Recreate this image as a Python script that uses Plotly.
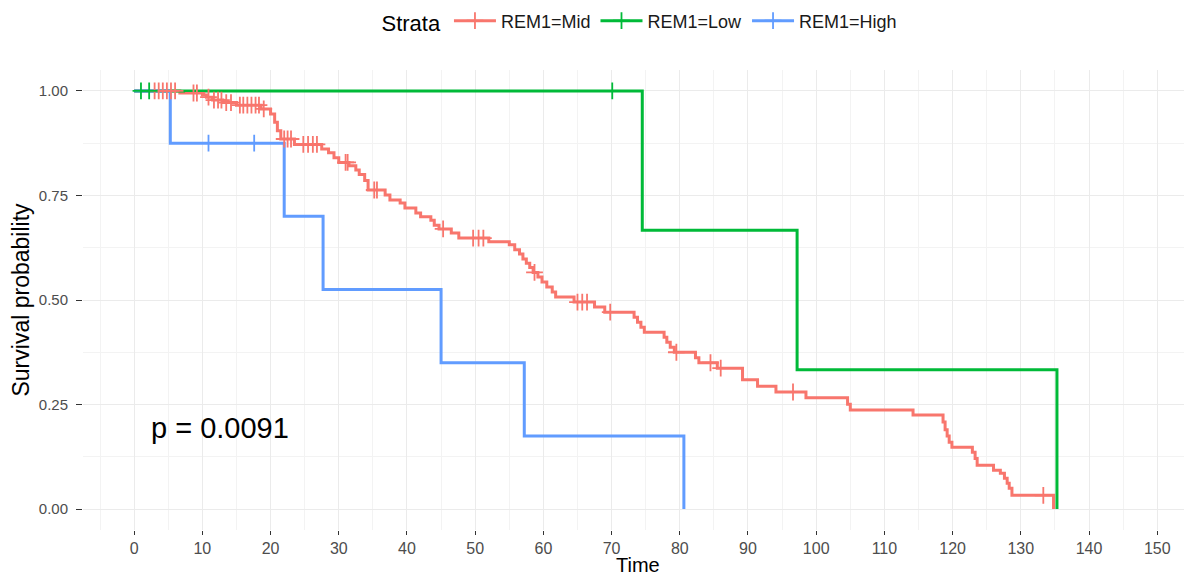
import plotly.graph_objects as go

# ---- data ----
mid_time = [0, 6.7, 10.0, 10.6, 11.5, 13.0, 15.0, 18.6, 20.0, 20.6, 21.0, 21.5, 23.5, 27.5, 28.5,
            29.3, 30.0, 31.5, 32.5, 33.0, 33.8, 34.3, 36.8, 37.5, 39.0, 39.7, 41.3, 42.0, 43.5,
            44.0, 44.7, 46.5, 47.6, 52.0, 55.0, 55.8, 56.5, 57.0, 57.5, 58.0, 58.5, 59.2, 59.8,
            60.5, 61.3, 61.8, 64.5, 67.5, 69.0, 73.3, 73.8, 74.3, 74.8, 77.7, 78.1, 78.6, 79.2,
            82.3, 82.8, 85.5, 89.2, 91.4, 94.1, 98.5, 104.6, 105.0, 114.2, 118.6, 118.9, 119.2,
            119.5, 119.9, 122.9, 123.3, 123.6, 126.0, 127.0, 127.6, 128.0, 128.3, 128.7, 134.8]
mid_surv = [1.0, 0.995, 0.990, 0.985, 0.978, 0.972, 0.966, 0.957, 0.945, 0.925, 0.905, 0.885, 0.872,
            0.861, 0.852, 0.840, 0.829, 0.821, 0.811, 0.800, 0.786, 0.763, 0.751, 0.739, 0.732,
            0.720, 0.708, 0.699, 0.691, 0.679, 0.670, 0.660, 0.648, 0.639, 0.632, 0.620, 0.610,
            0.598, 0.588, 0.578, 0.566, 0.555, 0.543, 0.531, 0.519, 0.507, 0.495, 0.483, 0.471,
            0.459, 0.447, 0.435, 0.423, 0.411, 0.399, 0.387, 0.375, 0.362, 0.350, 0.337, 0.309,
            0.294, 0.280, 0.266, 0.251, 0.237, 0.225, 0.208, 0.190, 0.175, 0.160, 0.148, 0.136,
            0.121, 0.105, 0.093, 0.086, 0.074, 0.062, 0.050, 0.033, 0.0]
mid_censor = [3.0, 3.6, 4.2, 4.8, 5.4, 6.0, 8.7, 9.2, 10.9, 11.7, 12.3, 12.8, 13.5, 14.2, 15.5, 16.0,
              16.6, 17.2, 17.8, 18.3, 19.0, 22.0, 22.5, 23.0, 24.8, 25.5, 26.2, 26.8, 31.0, 31.3,
              35.2, 35.6, 45.3, 49.7, 50.5, 51.2, 58.7, 65.0, 65.7, 66.4, 69.8, 79.5, 84.5, 86.0,
              96.6, 133.3]

low_time = [0, 74.5, 97.2, 135.3]
low_surv = [1.0, 0.667, 0.333, 0.0]
low_censor = [1.0, 2.2, 70.1]

high_time = [0, 5.3, 22.0, 27.7, 45.0, 57.2, 80.6]
high_surv = [1.0, 0.875, 0.700, 0.525, 0.350, 0.175, 0.0]
high_censor = [10.9, 17.6]

strata = ["REM1=Mid", "REM1=Low", "REM1=High"]
colors = ["#F8766D", "#00BA38", "#619CFF"]
x_ticks = list(range(0, 151, 10))
y_ticks = [0, 0.25, 0.5, 0.75, 1.0]
y_tick_text = ["0.00", "0.25", "0.50", "0.75", "1.00"]
p_text = "p = 0.0091"
x_title = "Time"
y_title = "Survival probability"


def step_at(times, surv, t):
    v = surv[0]
    for tt, ss in zip(times, surv):
        if tt <= t:
            v = ss
    return v


series = [(mid_time, mid_surv, mid_censor), (low_time, low_surv, low_censor),
          (high_time, high_surv, high_censor)]

fig = go.Figure()
for (t, s, c), name, col in zip(series, strata, colors):
    fig.add_trace(go.Scatter(x=t, y=s, mode="lines", line=dict(color=col, width=3, shape="hv"),
                             showlegend=False, hoverinfo="skip"))
for (t, s, c), name, col in zip(series, strata, colors):
    fig.add_trace(go.Scatter(x=c, y=[step_at(t, s, v) for v in c], mode="markers",
                             marker=dict(symbol="cross-thin", size=12,
                                         line=dict(color=col, width=1.8)),
                             showlegend=False, hoverinfo="skip"))
for name, col in zip(strata, colors):
    fig.add_trace(go.Scatter(x=[None], y=[None], mode="lines+markers", name=name,
                             line=dict(color=col, width=3),
                             marker=dict(symbol="cross-thin", size=12,
                                         line=dict(color=col, width=1.8))))

W, H = 1184, 569  # page body has an 8px margin
ML, MR, MT, MB = 75, 0, 62, 47
PH = H - MT - MB

fig.add_annotation(x=2.2, y=0.194, xref="x", yref="y", text=p_text, showarrow=False,
                   xanchor="left", yanchor="middle",
                   font=dict(family="Liberation Sans, Arial", size=29, color="black"))
fig.add_annotation(x=0.5, y=-47 / PH, xref="paper", yref="paper", text=x_title,
                   showarrow=False, xanchor="center", yanchor="bottom", borderpad=0,
                   font=dict(family="Liberation Sans, Arial", size=20, color="black"))

fig.update_layout(
    width=W, height=H,
    margin=dict(l=ML, r=MR, t=MT, b=MB),
    paper_bgcolor="white", plot_bgcolor="white",
    font=dict(family="Liberation Sans, Arial", color="#4D4D4D"),
    legend=dict(orientation="h", xref="container", yref="container", x=633 / W, xanchor="center",
                y=1 - 14 / H, yanchor="middle",
                title=dict(text="Strata", font=dict(size=22, color="black")),
                font=dict(size=18, color="#1A1A1A"), itemwidth=42, tracegroupgap=0),
    xaxis=dict(range=[-7.5, 155.1], tickvals=x_ticks, ticks="outside", ticklen=4,
               tickcolor="#333333", tickwidth=1.2, showline=False, zeroline=False,
               gridcolor="#EBEBEB", gridwidth=1.1,
               minor=dict(dtick=5, tick0=0, showgrid=True, gridcolor="#F3F3F3", gridwidth=0.6),
               tickfont=dict(family="Liberation Sans Narrow, Liberation Sans", size=16,
                             color="#4D4D4D")),
    yaxis=dict(range=[-0.05, 1.05], tickvals=y_ticks, ticktext=y_tick_text, ticks="outside",
               ticklen=6, tickcolor="#333333", tickwidth=1.2, showline=False, zeroline=False,
               ticklabelstandoff=5,
               gridcolor="#EBEBEB", gridwidth=1.1,
               minor=dict(dtick=0.125, tick0=0, showgrid=True, gridcolor="#F3F3F3",
                          gridwidth=0.6),
               tickfont=dict(size=15, color="#4D4D4D"),
               title=dict(text=y_title, standoff=2,
                          font=dict(size=23, color="black"))),
)

fig.write_html("out.html")
